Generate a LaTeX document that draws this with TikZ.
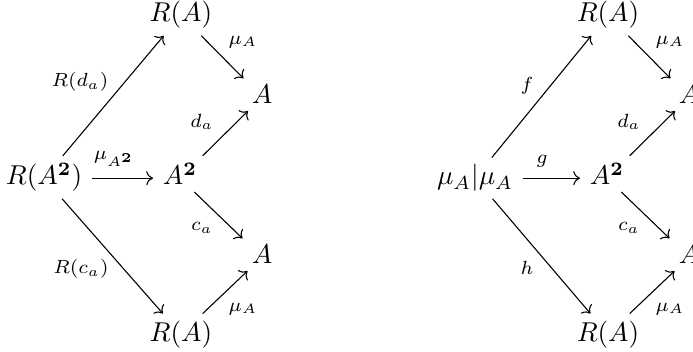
\documentclass[tikz,border=0pt]{standalone}
\usetikzlibrary{cd}
\begin{document}
\begin{tikzpicture}[x=0.367pt,y=-0.367pt,
  obj/.style={shape=asymmetrical rectangle, anchor=base, inner xsep=0.8ex, inner ysep=0.55ex},
  lbl/.style={inner sep=0pt, anchor=center},
  arr/.style={-cm to, line width=0.4pt}]
\clip (0,0) rectangle (693,352);
% left diagram
\node[obj] (RAt) at (181,22) {$R(A)$};
\node[obj] (At) at (262,104) {$A$};
\node[obj] (RAA) at (44,185) {$R(A^{\mathbf{2}})$};
\node[obj] (AA) at (180,185) {$A^{\mathbf{2}}$};
\node[obj] (Ab) at (262,264) {$A$};
\node[obj] (RAb) at (181,341) {$R(A)$};
\draw[arr] (RAA) -- (RAt);
\draw[arr] (RAt) -- (At);
\draw[arr] (AA) -- (At);
\draw[arr] (RAA) -- (AA);
\draw[arr] (AA) -- (Ab);
\draw[arr] (RAA) -- (RAb);
\draw[arr] (RAb) -- (Ab);
\node[lbl] (l1) at (80,82) {$\scriptstyle R(d_a)$};
\node[lbl] (l2) at (243,42) {$\scriptstyle \mu_A$};
\node[lbl] (l3) at (202,122) {$\scriptstyle d_a$};
\node[lbl] (l4) at (114,159) {$\scriptstyle \mu_{A^{\mathbf{2}}}$};
\node[lbl] (l5) at (202,228) {$\scriptstyle c_a$};
\node[lbl] (l6) at (81,269) {$\scriptstyle R(c_a)$};
\node[lbl] (l7) at (243,309) {$\scriptstyle \mu_A$};
% right diagram
\node[obj] (RAt2) at (608,22) {$R(A)$};
\node[obj] (At2) at (689,104) {$A$};
\node[obj] (MM) at (475,185) {$\mu_A|\mu_A$};
\node[obj] (AA2) at (607,185) {$A^{\mathbf{2}}$};
\node[obj] (Ab2) at (689,264) {$A$};
\node[obj] (RAb2) at (608,341) {$R(A)$};
\draw[arr] (MM) -- (RAt2);
\draw[arr] (RAt2) -- (At2);
\draw[arr] (AA2) -- (At2);
\draw[arr] (MM) -- (AA2);
\draw[arr] (AA2) -- (Ab2);
\draw[arr] (MM) -- (RAb2);
\draw[arr] (RAb2) -- (Ab2);
\node[lbl] (r1) at (527,86) {$\scriptstyle f$};
\node[lbl] (r2) at (670,42) {$\scriptstyle \mu_A$};
\node[lbl] (r3) at (629,122) {$\scriptstyle d_a$};
\node[lbl] (r4) at (542,161) {$\scriptstyle g$};
\node[lbl] (r5) at (629,228) {$\scriptstyle c_a$};
\node[lbl] (r6) at (527,268) {$\scriptstyle h$};
\node[lbl] (r7) at (670,309) {$\scriptstyle \mu_A$};
\end{tikzpicture}
\end{document}
